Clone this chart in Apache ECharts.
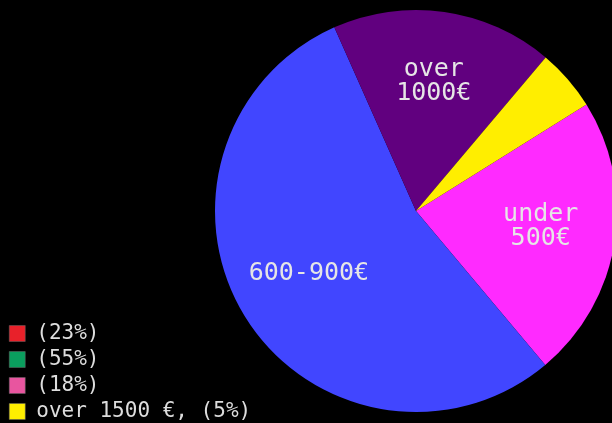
<!DOCTYPE html>
<html>
<head>
<meta charset="utf-8">
<script src="https://cdn.jsdelivr.net/npm/echarts@6/dist/echarts.min.js"></script>
<style>
  html, body { margin: 0; padding: 0; background: #000; }
  #chart { width: 612px; height: 423px; }
</style>
</head>
<body>
<div id="chart"></div>
<script>
// slices, clockwise from the yellow/pink edge
var categories = ['under 500€', '600-900€', 'over 1000€', 'over 1500 €'];
var sliceLabels = ['under\n500€', '600-900€', 'over\n1000€', ''];
var shares = [23, 55, 18, 5];
var legendLabels = ['(23%)', '(55%)', '(18%)', 'over 1500 €, (5%)'];

var sliceColors = ['#ff2aff', '#4146ff', '#61007f', '#ffee00'];
var legendColors = ['#e8212a', '#0a9e5e', '#e8559f', '#ffee00'];

var cx = 416, cy = 211;

var myChart = echarts.init(document.getElementById('chart'));

var option = {
    backgroundColor: '#000',
    animation: false,
    legend: {
        orient: 'vertical',
        left: 4,
        bottom: -4,
        icon: 'rect',
        itemWidth: 16,
        itemHeight: 16,
        itemGap: 5,
        data: categories.map(function (c, i) {
            return { name: c, itemStyle: { color: legendColors[i], borderColor: '#666', borderWidth: 0.5 } };
        }),
        formatter: function (name) {
            return legendLabels[categories.indexOf(name)];
        },
        textStyle: {
            color: '#dddddd',
            fontFamily: 'DejaVu Sans Mono',
            fontSize: 21,
            lineHeight: 21,
            padding: [0, 0, 0, 6]
        }
    },
    series: [{
        type: 'pie',
        center: [cx, cy],
        radius: 201,
        startAngle: 32,
        clockwise: true,
        label: {
            show: true,
            position: 'inside',
            color: '#e6e6e6',
            fontFamily: 'DejaVu Sans Mono',
            fontSize: 25,
            lineHeight: 24,
            formatter: function (p) {
                return sliceLabels[p.dataIndex];
            }
        },
        labelLayout: function (p) {
            // push labels a bit further out than the mid radius
            var r = p.labelRect;
            var lx = r.x + r.width / 2, ly = r.y + r.height / 2;
            return { dx: (lx - cx) * 0.22, dy: (ly - cy) * 0.22 - 4 };
        },
        itemStyle: { borderWidth: 0 },
        emphasis: { disabled: true },
        data: categories.map(function (c, i) {
            return { name: c, value: shares[i], itemStyle: { color: sliceColors[i] } };
        })
    }]
};
myChart.setOption(option);
</script>
</body>
</html>
